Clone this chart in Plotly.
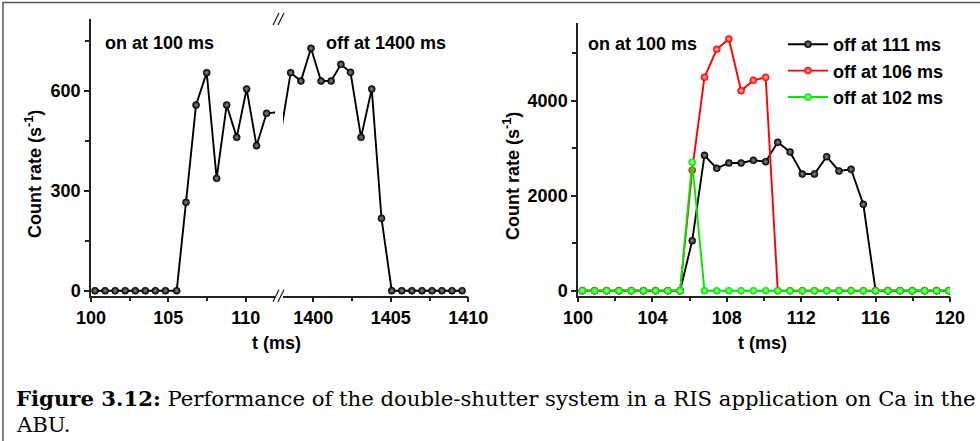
import plotly.graph_objects as go

W, H = 980, 441

# ---------------- data ----------------
# left panel, first segment (shutter on at 100 ms); last point lies past the axis break
t_on = [100.26, 100.91, 101.56, 102.21, 102.86, 103.51, 104.16, 104.81, 105.54,
        106.14, 106.79, 107.48, 108.12, 108.77, 109.42, 110.06, 110.70, 111.35, 112.00]
rate_on = [0, 0, 0, 0, 0, 0, 0, 0, 0,
           265, 557, 654, 337, 557, 460, 605, 435, 532, 535]
# left panel, second segment (shutter off at 1400 ms); first point lies before the break
t_off = [1397.89, 1398.54, 1399.20, 1399.85, 1400.50, 1401.15, 1401.78, 1402.40, 1403.08,
         1403.77, 1404.40, 1405.06, 1405.71, 1406.36, 1407.01, 1407.66, 1408.30, 1408.95, 1409.60]
rate_off = [470, 654, 629, 727, 629, 629, 679, 655, 460,
            605, 217, 0, 0, 0, 0, 0, 0, 0, 0]

# right panel
t_r = [100.23, 100.89, 101.54, 102.20, 102.86, 103.52, 104.17, 104.83, 105.49, 106.14,
       106.80, 107.46, 108.11, 108.77, 109.43, 110.09, 110.74, 111.40, 112.06, 112.71,
       113.37, 114.03, 114.68, 115.34, 116.00, 116.66, 117.31, 117.97, 118.63, 119.28, 119.94]
off_111 = [0, 0, 0, 0, 0, 0, 0, 0, 0, 1052,
           2850, 2576, 2688, 2688, 2745, 2716, 3124, 2920, 2456, 2456,
           2821, 2520, 2555, 1818, 0, 0, 0, 0, 0, 0, 0]
off_106 = [0, 0, 0, 0, 0, 0, 0, 0, 0, 2537,
           4492, 5081, 5298, 4210, 4429, 4492, 0, 0, 0, 0,
           0, 0, 0, 0, 0, 0, 0, 0, 0, 0, 0]
off_102 = [0, 0, 0, 0, 0, 0, 0, 0, 0, 2703,
           0, 0, 0, 0, 0, 0, 0, 0, 0, 0,
           0, 0, 0, 0, 0, 0, 0, 0, 0, 0, 0]
series_names = ["off at 111 ms", "off at 106 ms", "off at 102 ms"]
series_colors = ["#000000", "#ff0000", "#00e800"]
series_glow = ["#909090", "#ffbcbc", "#bcffbc"]

# ---------------- helpers ----------------
def px_x(p):
    return p / W

def px_y(p):
    return 1 - p / H

SANS = "Liberation Sans, Arial, Helvetica, sans-serif"
AX = "#222222"

# layout geometry (pixels)
LX0, LBRK0, LBRK1, LX1 = 91, 275, 283, 468.3
LTOP, BOT = 19, 295.7
RX0, RX1, RTOP = 578, 950, 22.7

fig = go.Figure()

def ball(color, glow, size=7):
    return dict(size=size, color=color, line=dict(color=color, width=0.6),
                gradient=dict(type="radial", color=glow))

# left panel: first segment (hidden marker on the point beyond the break)
op_on = [1] * (len(t_on) - 1) + [0]
fig.add_trace(go.Scatter(x=t_on, y=rate_on, mode="lines+markers", xaxis="x", yaxis="y",
                         line=dict(color="black", width=1.9),
                         marker=dict(ball("#000000", series_glow[0]), opacity=op_on),
                         showlegend=False))
op_off = [0] + [1] * (len(t_off) - 1)
fig.add_trace(go.Scatter(x=t_off, y=rate_off, mode="lines+markers", xaxis="x2", yaxis="y",
                         line=dict(color="black", width=1.9),
                         marker=dict(ball("#000000", series_glow[0]), opacity=op_off),
                         showlegend=False))

# right panel
for name, ys, c, g in zip(series_names, [off_111, off_106, off_102], series_colors, series_glow):
    fig.add_trace(go.Scatter(x=t_r, y=ys, mode="lines+markers", name=name,
                             xaxis="x5", yaxis="y2",
                             line=dict(color=c, width=1.9),
                             marker=ball(c, g)))

tickfont = dict(family=SANS, size=18, color="black", weight="bold")

def xax(domain, rng, dtick, side="bottom", anchor="y", overlay=None, labels=True):
    d = dict(domain=domain, range=rng, side=side, anchor=anchor, automargin=False,
             showline=True, linecolor=AX, linewidth=1.5,
             ticks="outside" if side == "bottom" else "inside", ticklen=5, tickwidth=1.5,
             tickcolor=AX, showgrid=False, zeroline=False,
             showticklabels=labels, tickfont=tickfont,
             tickmode="linear", tick0=0, dtick=dtick,
             minor=dict(ticks="outside" if side == "bottom" else "inside", ticklen=4,
                        tickwidth=1.5, tickcolor=AX, dtick=dtick / 2, showgrid=False))
    if overlay:
        d["overlaying"] = overlay
    return d

def yax(domain, rng, dtick, side="left", anchor="x", overlay=None, labels=True):
    d = dict(domain=domain, range=rng, side=side, anchor=anchor, automargin=False,
             showline=True, linecolor=AX, linewidth=1.5,
             ticks="outside" if side == "left" else "inside", ticklen=5, tickwidth=1.5,
             tickcolor=AX, showgrid=False, zeroline=False,
             showticklabels=labels, tickfont=tickfont,
             tickmode="linear", tick0=0, dtick=dtick,
             minor=dict(ticks="outside" if side == "left" else "inside", ticklen=4,
                        tickwidth=1.5, tickcolor=AX, dtick=dtick / 2, showgrid=False))
    if overlay:
        d["overlaying"] = overlay
    return d

xl_dom = [px_x(LX0), px_x(LBRK0)]
xr_dom = [px_x(LBRK1), px_x(LX1)]
yl_dom = [px_y(BOT), px_y(LTOP)]
xl_rng = [100, 100 + (LBRK0 - LX0) / 15.47]
xr_rng = [1400 - (313.3 - LBRK1) / 15.5, 1410]
yl_rng = [-15, 815]

xR_dom = [px_x(RX0), px_x(RX1)]
yR_dom = [px_y(BOT), px_y(RTOP)]
xR_rng = [100, 120]
yR_rng = [-105, 5640]

fig.update_layout(
    template="none",
    width=W, height=H,
    margin=dict(l=0, r=0, t=0, b=0, autoexpand=False),
    paper_bgcolor="white", plot_bgcolor="white",
    font=dict(family=SANS, size=18, color="black", weight="bold"),
    xaxis=xax(xl_dom, xl_rng, 5),
    xaxis2=xax(xr_dom, xr_rng, 5),
    xaxis3=xax(xl_dom, xl_rng, 5, side="top", anchor="y", overlay="x", labels=False),
    xaxis4=xax(xr_dom, xr_rng, 5, side="top", anchor="y", overlay="x2", labels=False),
    yaxis=yax(yl_dom, yl_rng, 300),
    yaxis3=yax(yl_dom, yl_rng, 300, side="right", anchor="x2", overlay="y", labels=False),
    xaxis5=xax(xR_dom, xR_rng, 4, anchor="y2"),
    xaxis6=xax(xR_dom, xR_rng, 4, side="top", anchor="y2", overlay="x5", labels=False),
    yaxis2=yax(yR_dom, yR_rng, 2000, anchor="x5"),
    yaxis4=yax(yR_dom, yR_rng, 2000, side="right", anchor="x5", overlay="y2", labels=False),
    legend=dict(x=px_x(783), y=px_y(26), xanchor="left", yanchor="top",
                bgcolor="rgba(0,0,0,0)", borderwidth=0,
                font=dict(family=SANS, size=18, weight="bold"),
                itemwidth=40, tracegroupgap=0),
    showlegend=True,
)

ann = []
def txt(x, y, s, xanchor="center", angle=0, size=18, family=SANS, weight="bold"):
    ann.append(dict(x=px_x(x), y=px_y(y), xref="paper", yref="paper", text=s,
                    showarrow=False, xanchor=xanchor, yanchor="middle", textangle=angle,
                    font=dict(family=family, size=size, color="black", weight=weight)))

txt(103, 43, "on at 100 ms", xanchor="left")
txt(448, 43, "off at 1400 ms", xanchor="right")
txt(586, 44, "on at 100 ms", xanchor="left")
txt(33, 174, "Count rate (s<sup>-1</sup>)", angle=-90)
txt(511, 176, "Count rate (s<sup>-1</sup>)", angle=-90)
txt(276, 343, "t (ms)")
txt(762, 343, "t (ms)")
SERIF = "DejaVu Serif, Liberation Serif, serif"
txt(14, 398, "<b>Figure 3.12:</b> Performance of the double-shutter system in a RIS application on Ca in the",
    xanchor="left", size=21.2, family=SERIF, weight="normal")
txt(14, 424, "ABU.", xanchor="left", size=21.2, family=SERIF, weight="normal")
fig.update_layout(annotations=ann)

# axis-break marks and figure frame
shapes = []
for yc in (LTOP, BOT):
    for dx in (-3, 2):
        xc = (LBRK0 + LBRK1) / 2 + dx
        shapes.append(dict(type="line", xref="paper", yref="paper",
                           x0=px_x(xc - 3), y0=px_y(yc + 6), x1=px_x(xc + 3), y1=px_y(yc - 6),
                           line=dict(color=AX, width=1.3)))
shapes.append(dict(type="rect", xref="paper", yref="paper",
                   x0=px_x(3), y0=-0.05, x1=1.05, y1=px_y(2.5),
                   line=dict(color="#555555", width=1.5)))
fig.update_layout(shapes=shapes)

fig.write_html("out.html")
